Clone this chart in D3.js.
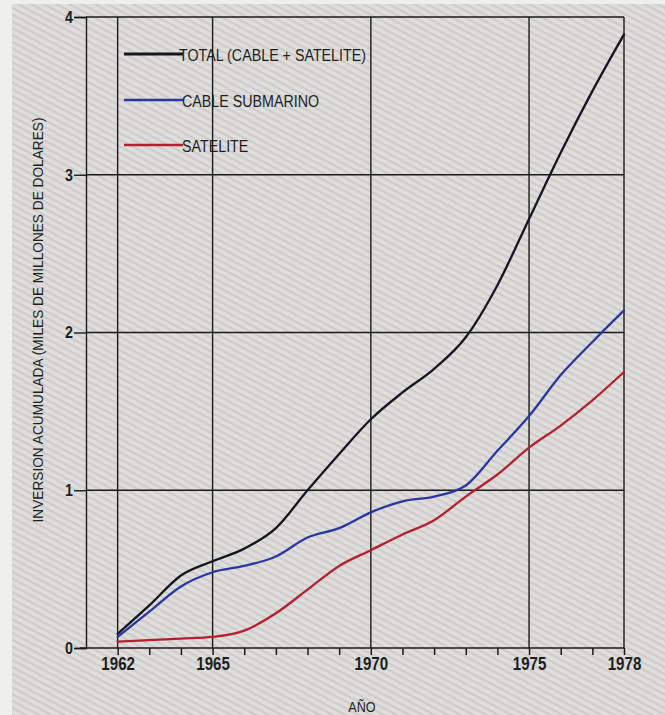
<!DOCTYPE html>
<html>
<head>
<meta charset="utf-8">
<script src="https://cdn.jsdelivr.net/npm/d3@7"></script>
<style>
  html, body { margin: 0; padding: 0; background: #f0f0ee; }
  svg { display: block; }
  text { font-family: "Liberation Sans", Arial, sans-serif; fill: #1e1e1e; }
</style>
</head>
<body>
<svg id="chart" width="665" height="715"></svg>
<script>
// Years on the horizontal axis
const years = d3.range(1962, 1979);
// Cumulative investment, thousands of millions of dollars
const totalValues = [0.09, 0.27, 0.46, 0.55, 0.63, 0.76, 1.00, 1.23, 1.45, 1.62, 1.77, 1.97, 2.30, 2.72, 3.14, 3.53, 3.89];
const cableValues = [0.07, 0.23, 0.39, 0.48, 0.52, 0.58, 0.70, 0.76, 0.86, 0.93, 0.96, 1.03, 1.25, 1.47, 1.73, 1.94, 2.14];
const satelliteValues = [0.04, 0.05, 0.06, 0.07, 0.11, 0.22, 0.37, 0.52, 0.62, 0.72, 0.81, 0.96, 1.10, 1.27, 1.41, 1.57, 1.75];
const labeledYears = [1962, 1965, 1970, 1975, 1978];
const yTicks = [0, 1, 2, 3, 4];
const seriesNames = ["TOTAL (CABLE + SATELITE)", "CABLE SUBMARINO", "SATELITE"];
const seriesColors = ["#17161f", "#2a37a3", "#b4202f"];
const yTitle = "INVERSION ACUMULADA (MILES DE MILLONES DE DOLARES)";
const xTitle = "AÑO";

// Horizontal squeeze that gives the regular face a condensed look
const narrow = 0.84;

const svg = d3.select("#chart");

// Hatched paper background
const defs = svg.append("defs");
const pat = defs.append("pattern")
  .attr("id", "hatch")
  .attr("patternUnits", "userSpaceOnUse")
  .attr("width", 6).attr("height", 6)
  .attr("patternTransform", "rotate(28)");
pat.append("rect").attr("width", 6).attr("height", 6).attr("fill", "#dfdedc");
pat.append("rect").attr("y", 0).attr("width", 6).attr("height", 2.2).attr("fill", "#cdccca");

svg.append("rect").attr("width", 665).attr("height", 715).attr("fill", "#efefed");
svg.append("rect").attr("x", 12).attr("y", 4).attr("width", 653).attr("height", 711).attr("fill", "url(#hatch)");

const x = d3.scaleLinear().domain([1961, 1978]).range([86, 624]);
const y = d3.scaleLinear().domain([0, 4]).range([648, 17]);

const ink = "#1a1a1a";
const grid = svg.append("g").attr("stroke", ink).attr("stroke-width", 1.4);

// Horizontal rules (the top one closes the frame)
grid.selectAll("line.h").data(yTicks.filter(d => d > 0)).join("line")
  .attr("class", "h")
  .attr("x1", x(1961)).attr("x2", x(1978))
  .attr("y1", d => y(d)).attr("y2", d => y(d));

// Vertical rules at the labelled years (1978 closes the frame)
grid.selectAll("line.v").data(labeledYears).join("line")
  .attr("class", "v")
  .attr("x1", d => x(d)).attr("x2", d => x(d))
  .attr("y1", y(0)).attr("y2", y(4));

// Left axis
const yAxis = svg.append("g")
  .attr("transform", `translate(${x(1961)},0)`)
  .call(d3.axisLeft(y).tickValues(yTicks).tickSize(12).tickPadding(2).tickFormat(d3.format("d")));
yAxis.select(".domain").attr("stroke", ink).attr("stroke-width", 1.4);
yAxis.selectAll(".tick line").attr("stroke", ink).attr("stroke-width", 1.4);
yAxis.selectAll(".tick text")
  .attr("font-family", null)
  .attr("x", 0)
  .attr("transform", `translate(-13,0) scale(${narrow},1)`)
  .style("font-size", "17px").style("font-weight", "bold").attr("fill", "#1e1e1e");

// Bottom axis with a tick every year
const xAxis = svg.append("g")
  .attr("transform", `translate(0,${y(0)})`)
  .call(d3.axisBottom(x).tickValues(years).tickSize(7).tickPadding(2)
    .tickFormat(d => labeledYears.includes(d) ? String(d) : ""));
xAxis.select(".domain").attr("d", `M${x(1961) - 6},0H${x(1978)}`).attr("stroke", ink).attr("stroke-width", 1.6);
xAxis.selectAll(".tick line").attr("stroke", ink).attr("stroke-width", 1.5);
xAxis.selectAll(".tick text")
  .attr("font-family", null)
  .attr("transform", `scale(${narrow},1)`)
  .style("font-size", "18px").style("font-weight", "bold").attr("fill", "#1e1e1e");

// Series curves
const series = [totalValues, cableValues, satelliteValues];
const line = d3.line()
  .x((d, i) => x(years[i]))
  .y(d => y(d))
  .curve(d3.curveMonotoneX);

svg.append("g").selectAll("path").data(series).join("path")
  .attr("d", line)
  .attr("fill", "none")
  .attr("stroke", (d, i) => seriesColors[i])
  .attr("stroke-width", 2.3)
  .attr("stroke-linejoin", "round")
  .attr("stroke-linecap", "round");

// Legend
const legendRows = [54, 100, 145];
const legend = svg.append("g");
seriesNames.forEach((name, i) => {
  legend.append("line")
    .attr("x1", 124).attr("x2", 183)
    .attr("y1", legendRows[i]).attr("y2", legendRows[i])
    .attr("stroke", seriesColors[i]).attr("stroke-width", i === 0 ? 3.2 : 2.4);
  legend.append("text")
    .attr("transform", `translate(${i === 0 ? 179 : 182},${legendRows[i] + 7}) scale(${narrow},1)`)
    .style("font-size", "17px")
    .text(name);
});

// Axis titles
svg.append("text")
  .attr("transform", "translate(43,320) rotate(-90)")
  .attr("text-anchor", "middle")
  .attr("textLength", 405)
  .attr("lengthAdjust", "spacingAndGlyphs")
  .style("font-size", "15px")
  .text(yTitle);

svg.append("text")
  .attr("transform", `translate(362,712) scale(${narrow},1)`)
  .attr("text-anchor", "middle")
  .style("font-size", "15px")
  .text(xTitle);
</script>
</body>
</html>
